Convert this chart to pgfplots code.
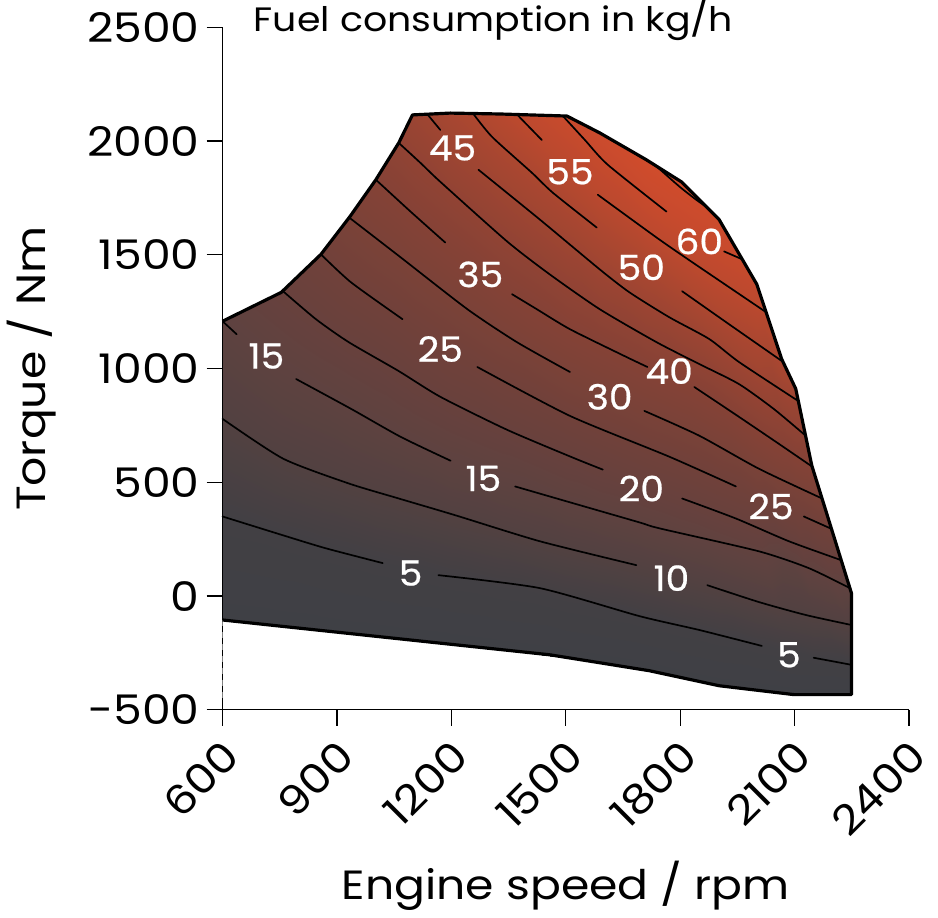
\documentclass[border=0pt]{standalone}
\usepackage{pgfplots}
\pgfplotsset{compat=1.18}
\usepackage{fontspec}
\setmainfont{Poppins}[FakeStretch=1.12]
\newfontfamily\clabelfont{Poppins}[FakeStretch=1.08, FakeBold=0.6]
\begin{document}
\begin{tikzpicture}
\begin{axis}[
  scale only axis, width=345pt, height=343pt,
  xmin=600, xmax=2400, ymin=-500, ymax=2500,
  axis x line*=bottom, axis y line*=left,
  axis line style={line width=0.6pt},
  tick align=outside, major tick length=8pt,
  tick style={line width=0.6pt, black},
  xtick={600,900,...,2400}, ytick={-500,0,...,2500},
  /pgf/number format/assume math mode=true,
  /pgf/number format/set thousands separator={},
  tick label style={font=\fontsize{20.5}{21}\selectfont},
  xticklabel style={xshift=7pt, yshift=-9pt, rotate=45, anchor=east},
  xlabel={Engine speed / rpm}, ylabel={Torque / Nm},
  label style={font=\fontsize{20.5}{22}\selectfont},
  ylabel shift=9pt, xlabel shift=3pt,
  clip=false,
  unbounded coords=jump,
  colormap={fuel}{
    rgb255(0pt)=(63,64,69)
    rgb255(5pt)=(66,64,68)
    rgb255(10pt)=(82,65,65)
    rgb255(15pt)=(94,66,64)
    rgb255(20pt)=(104,65,61)
    rgb255(25pt)=(113,65,58)
    rgb255(30pt)=(123,66,56)
    rgb255(35pt)=(133,66,54)
    rgb255(40pt)=(145,67,52)
    rgb255(45pt)=(158,69,50)
    rgb255(50pt)=(172,71,48)
    rgb255(55pt)=(188,73,46)
    rgb255(60pt)=(200,74,45)
    rgb255(65pt)=(208,76,44)
  },
  point meta min=0, point meta max=65,
]
% filled map
\addplot[surf, shader=interp, mesh/ordering=y varies, point meta=explicit] table[meta=f] {
x y f
600 -105 0
600 158 2.9
600 420 5.8
600 683 8.9
600 945 11.9
600 1208 15

754 -133 0
754 161 3.6
754 454 7.7
754 748 11.8
754 1041 15.6
754 1335 20

858 -151 0
858 180 4.5
858 510 9.5
858 841 14.2
858 1171 19.5
858 1502 25

934 -165 0
934 202 5.3
934 568 11.1
934 935 16.9
934 1301 23.5
934 1668 30

1002 -177 0
1002 224 6.2
1002 626 12.8
1002 1027 19.6
1002 1429 27.4
1002 1830 35

1062 -187 0
1062 249 7.0
1062 685 14.6
1062 1120 22.7
1062 1556 31.2
1062 1992 40

1098 -194 0
1098 268 7.5
1098 730 16.0
1098 1191 25.0
1098 1653 34.4
1098 2115 44

1197 -212 0
1197 255 8.1
1197 722 17.5
1197 1189 27.2
1197 1656 37.4
1197 2123 48.5

1328 -235 0
1328 236 8.8
1328 707 19.2
1328 1177 30.3
1328 1648 41.5
1328 2119 53.5

1503 -270 0
1503 206 9.9
1503 682 21.7
1503 1158 34.4
1503 1634 47.3
1503 2110 60.5

1589 -293 0
1589 173 9.9
1589 639 22.2
1589 1104 34.9
1589 1570 48.9
1589 2036 62.5

1711 -326 0
1711 123 10
1711 572 22.6
1711 1020 35.4
1711 1469 50.4
1711 1918 65

1803 -358 0
1803 78 10
1803 514 22.6
1803 950 35.3
1803 1385 51.3
1803 1821 65

1902 -394 0
1902 16 9.6
1902 426 22.0
1902 835 34.7
1902 1245 50.6
1902 1655 63

2001 -414 0
2001 -57 9.1
2001 300 20
2001 657 32.7
2001 1013 46.4
2001 1370 57.4

2066 -427 0
2066 -133 7.9
2066 161 15
2066 454 27.5
2066 748 38.3
2066 1042 50

2103 -433 0
2103 -164 7.4
2103 105 14.1
2103 373 25.3
2103 642 36.0
2103 911 46

2145 -433 0
2145 -232 6.0
2145 -30 11.4
2145 171 18.1
2145 373 26.7
2145 574 35.2

2249 -433 0
2249 -344 3.4
2249 -255 6.3
2249 -165 8.9
2249 -76 11.6
2249 13 14.5
};
% contour lines
\pgfplotsset{cl/.style={black, line width=0.85pt, smooth, tension=0.4, line join=round, line cap=round}}
% 5
\addplot[cl] coordinates {(600,350) (759,267) (871,210) (1020,145) (nan,nan) (1166,92) (1432,35) (1693,-88) (1850,-149) (2014,-219) (nan,nan) (2150,-271) (2249,-302)};
% 10
\addplot[cl] coordinates {(600,779) (759,604) (931,495) (1062,429) (1211,355) (1432,241) (1685,136) (nan,nan) (1871,48) (2006,-26) (2129,-83) (2249,-127)};
% 15
\addplot[cl] coordinates {(602,1205) (637,1151) (nan,nan) (793,954) (937,823) (1067,700) (1198,595) (nan,nan) (1367,482) (1503,416) (1693,324) (1745,298) (2006,197) (2137,123) (2245,35)};
% 20
\addplot[cl] coordinates {(758,1341) (845,1217) (931,1116) (1062,989) (1171,876) (1346,731) (1518,609) (1597,556) (nan,nan) (1805,429) (1946,341) (2085,241) (2222,158)};
% 25
\addplot[cl] coordinates {(858,1502) (937,1379) (1072,1217) (nan,nan) (1268,1007) (1511,792) (1771,613) (1946,482) (nan,nan) (2124,350) (2196,296)};
% 30
\addplot[cl] coordinates {(932,1664) (1067,1489) (1242,1261) (1372,1116) (1511,985) (nan,nan) (1706,814) (1850,705) (2006,560) (2172,429)};
% 35
\addplot[cl] coordinates {(1002,1830) (1093,1690) (1184,1554) (nan,nan) (1359,1327) (1424,1261) (1511,1173) (1654,1055) (1714,1007) (nan,nan) (1837,919) (1954,788) (2058,670) (2146,569)};
% 40
\addplot[cl] coordinates {(1062,1992) (1119,1904) (1171,1821) (1346,1559) (1458,1414) (1589,1261) (1738,1116) (1850,1020) (1954,932) (2045,823) (2129,705)};
% 45
\addplot[cl] coordinates {(1137,2118) (1171,2049) (nan,nan) (1271,1874) (1432,1655) (1589,1436) (1667,1335) (1771,1226) (1876,1130) (1954,1029) (2109,858)};
% 50
\addplot[cl] coordinates {(1257,2121) (1307,2018) (1411,1861) (1466,1773) (1581,1620) (nan,nan) (1805,1340) (1928,1195) (2070,1029)};
% 55
\addplot[cl] coordinates {(1372,2117) (1437,2005) (nan,nan) (1584,1764) (1738,1576) (1832,1467) (2025,1248)};
% 60
\addplot[cl] coordinates {(1492,2111) (1550,2005) (1610,1896) (1764,1690) (nan,nan) (1915,1515) (1963,1480)};
% 65
\addplot[cl] coordinates {(1735,1893) (1798,1800) (1842,1742) (1870,1709)};
% boundary
\addplot[gray, dashed, line width=0.5pt] coordinates {(601,-105) (601,-450)};
\addplot[black, line width=1.6pt, line join=round] coordinates {(600,1208) (754,1335) (858,1502) (934,1668) (1002,1830) (1062,1992) (1098,2115) (1197,2123) (1328,2119) (1503,2110) (1589,2036) (1711,1918) (1803,1821) (1902,1655) (2001,1370) (2066,1042) (2103,911) (2145,574) (2249,13) (2249,-433) (2098,-433) (1902,-394) (1719,-328) (1589,-293) (1458,-258) (1093,-193) (600,-105)};
% labels
\begin{scope}[every node/.style={text=white, font=\clabelfont\fontsize{17.5}{18}\selectfont, inner sep=0pt}]
\node at (axis cs:1093,101) {5};
\node at (axis cs:2085,-258) {5};
\node at (axis cs:1777,79) {10};
\node at (axis cs:715,1055) {15};
\node at (axis cs:1284,517) {15};
\node at (axis cs:1698,473) {20};
\node at (axis cs:1171,1086) {25};
\node at (axis cs:2038,394) {25};
\node at (axis cs:1615,876) {30};
\node at (axis cs:1276,1414) {35};
\node at (axis cs:1771,989) {40};
\node at (axis cs:1203,1970) {45};
\node at (axis cs:1698,1445) {50};
\node at (axis cs:1511,1865) {55};
\node at (axis cs:1850,1559) {60};
\end{scope}
\node[anchor=west, font=\fontsize{17}{18}\selectfont, inner sep=0pt] at (axis cs:681,2530) {Fuel consumption in kg/h};
\end{axis}
\end{tikzpicture}
\end{document}
